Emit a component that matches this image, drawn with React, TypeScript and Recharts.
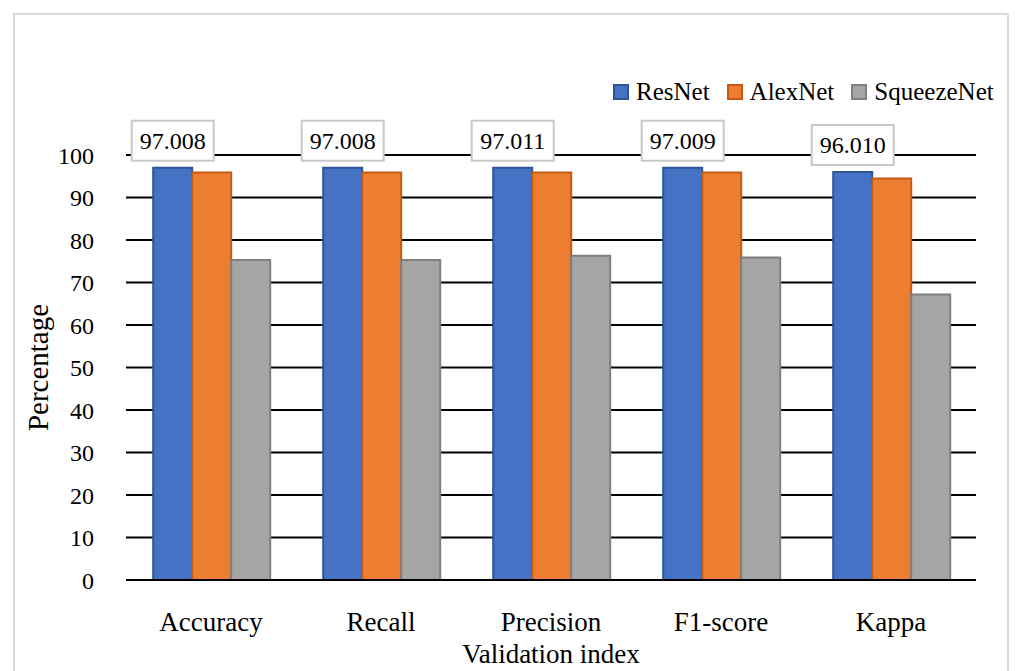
import { BarChart, Bar, XAxis, YAxis, CartesianGrid, Legend, LabelList, Label } from 'recharts';

const categories = ['Accuracy', 'Recall', 'Precision', 'F1-score', 'Kappa'];
const resnet = [97.008, 97.008, 97.011, 97.009, 96.010];
const alexnet = [95.9, 95.9, 95.9, 95.9, 94.5];
const squeezenet = [75.3, 75.3, 76.3, 75.9, 67.2];
const resnetLabels = ['97.008', '97.008', '97.011', '97.009', '96.010'];
const yTicks = [0, 10, 20, 30, 40, 50, 60, 70, 80, 90, 100];

const FONT = '"Liberation Serif", "Times New Roman", serif';

const series = [
  { key: 'ResNet', fill: '#4472C4', stroke: '#2F5597' },
  { key: 'AlexNet', fill: '#ED7D31', stroke: '#C55A11' },
  { key: 'SqueezeNet', fill: '#A5A5A5', stroke: '#7F7F7F' },
];

const data = categories.map((name, i) => ({
  name,
  ResNet: resnet[i],
  AlexNet: alexnet[i],
  SqueezeNet: squeezenet[i],
  label: resnetLabels[i],
}));

// boxed value label above the ResNet bar
const BoxLabel = (props: any) => {
  const { x, y, width, value } = props;
  if (x === undefined || y === undefined) return null;
  const cx = x + width / 2;
  const w = 82;
  const h = 40;
  const top = y - 7 - h;
  return (
    <g>
      <rect x={cx - w / 2} y={top} width={w} height={h} fill="#fff" stroke="#c8c8c8" strokeWidth={2} />
      <text x={cx} y={top + h / 2 + 8} textAnchor="middle" fontFamily={FONT} fontSize={24} fill="#000">
        {value}
      </text>
    </g>
  );
};

const LegendContent = () => (
  <div style={{ display: 'flex', alignItems: 'center', fontFamily: FONT, fontSize: 25, color: '#000', whiteSpace: 'nowrap' }}>
    {series.map((s) => (
      <div key={s.key} style={{ display: 'flex', alignItems: 'center', marginRight: 17 }}>
        <span
          style={{
            display: 'inline-block',
            width: 16,
            height: 16,
            boxSizing: 'border-box',
            background: s.fill,
            border: `2px solid ${s.stroke}`,
            marginRight: 7,
          }}
        />
        <span>{s.key}</span>
      </div>
    ))}
  </div>
);

export default function App() {
  return (
    <div style={{ position: 'absolute', left: 0, top: 0, width: 1015, height: 671, background: '#fff', overflow: 'hidden' }}>
      <div
        style={{
          position: 'absolute',
          left: 13,
          top: 13,
          width: 996,
          height: 720,
          border: '2px solid #d9d9d9',
          boxSizing: 'border-box',
        }}
      />
      <div style={{ position: 'absolute', left: 0, top: 0 }}>
        <BarChart
          width={1015}
          height={671}
          data={data}
          margin={{ top: 155, right: 39, left: 0, bottom: 0 }}
          barCategoryGap="16%"
          barGap={0}
        >
          <CartesianGrid vertical={false} stroke="#000" strokeWidth={2} />
          <XAxis
            dataKey="name"
            height={91}
            axisLine={{ stroke: '#000', strokeWidth: 2 }}
            tickLine={false}
            tickMargin={26}
            tick={{ fontFamily: FONT, fontSize: 27, fill: '#000' }}
          >
            <Label
              value="Validation index"
              position="insideBottom"
              offset={8}
              style={{ fontFamily: FONT, fontSize: 27, fill: '#000' }}
            />
          </XAxis>
          <YAxis
            width={126}
            domain={[0, 100]}
            ticks={yTicks}
            axisLine={false}
            tickLine={false}
            tickMargin={26}
            tick={{ fontFamily: FONT, fontSize: 24, fill: '#000' }}
          >
            <Label
              content={(p: any) => {
                const vb = p.viewBox;
                const cy = vb.y + vb.height / 2;
                return (
                  <text
                    x={38}
                    y={cy}
                    transform={`rotate(-90 38 ${cy})`}
                    textAnchor="middle"
                    dominantBaseline="central"
                    fontFamily={FONT}
                    fontSize={29}
                    fill="#000"
                  >
                    Percentage
                  </text>
                );
              }}
            />
          </YAxis>
          <Legend
            layout="vertical"
            align="center"
            verticalAlign="middle"
            content={<LegendContent />}
            wrapperStyle={{ position: 'absolute', left: 613, top: 78, width: 'auto', height: 'auto' }}
          />
          {series.map((s) => (
            <Bar
              key={s.key}
              dataKey={s.key}
              fill={s.fill}
              stroke={s.stroke}
              strokeWidth={2}
              isAnimationActive={false}
            >
              {s.key === 'ResNet' && <LabelList dataKey="label" content={<BoxLabel />} />}
            </Bar>
          ))}
        </BarChart>
      </div>
    </div>
  );
}
